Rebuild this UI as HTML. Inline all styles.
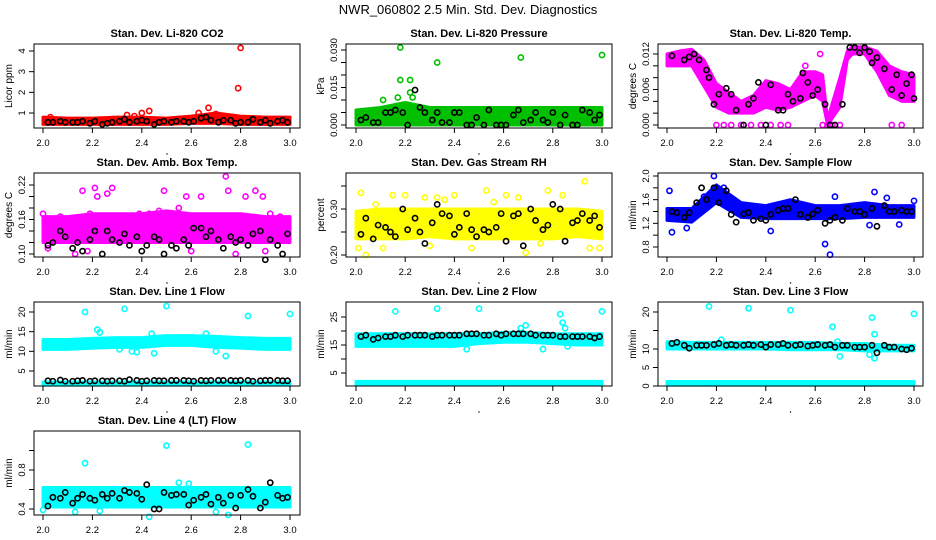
<!DOCTYPE html>
<html><head><meta charset="utf-8"><style>
body{margin:0;background:#fff;}
svg{display:block;font-family:"Liberation Sans",sans-serif;}
</style></head><body>
<svg id="c" width="936" height="540" viewBox="0 0 936 540">
<text x="468" y="14" text-anchor="middle" font-size="13">NWR_060802  2.5 Min. Std. Dev. Diagnostics</text>
</svg>
<script>
// shared x positions for black (alternate) series
const blackX=[2.02,2.04,2.07,2.09,2.12,2.14,2.16,2.19,2.21,2.24,2.26,2.28,2.31,2.33,2.35,2.38,2.40,2.42,2.45,2.47,2.49,2.52,2.54,2.57,2.59,2.61,2.64,2.66,2.68,2.71,2.73,2.76,2.78,2.80,2.83,2.85,2.88,2.90,2.92,2.95,2.97,2.99];
const bandX=[2.0,2.1,2.2,2.3,2.4,2.5,2.6,2.7,2.8,2.9,3.0];
// P1 CO2
const co2BandLo=[0.45,0.45,0.45,0.45,0.45,0.45,0.5,0.5,0.45,0.45,0.45];
const co2BandHi=[0.8,0.75,0.75,0.8,0.8,0.75,0.85,1.0,0.85,0.8,0.8];
const co2OutX=[2.79,2.80,2.67,2.40,2.43,2.34,2.63,2.03,2.37,2.70];
const co2OutY=[2.2,4.15,1.25,1.0,1.1,0.9,1.0,0.8,0.85,0.95];
const co2Black=[0.55,0.55,0.6,0.55,0.55,0.55,0.6,0.5,0.6,0.45,0.5,0.55,0.6,0.7,0.55,0.6,0.65,0.6,0.45,0.55,0.6,0.55,0.6,0.6,0.55,0.6,0.75,0.8,0.65,0.55,0.65,0.65,0.5,0.55,0.55,0.7,0.55,0.65,0.5,0.6,0.65,0.55];
// P2 Pressure
const presBandLo=[0,0,0,0,0,0,0,0,0,0,0];
const presBandHi=[0.006,0.007,0.009,0.007,0.007,0.007,0.007,0.007,0.007,0.007,0.007];
const presOutX=[2.18,2.18,2.22,2.22,2.33,2.67,3.0,2.17,2.23,2.11];
const presOutY=[0.031,0.018,0.018,0.013,0.025,0.027,0.028,0.011,0.011,0.010];
const presBlack=[0.002,0.003,0.001,0.001,0.005,0.005,0.006,0.005,0,0.014,0.007,0.005,0.002,0.005,0.001,0.001,0.005,0.005,0,0,0.003,0,0.006,0,0,0,0.004,0.006,0.001,0.002,0.005,0.002,0.001,0.005,0,0.004,0,0,0.006,0.005,0.002,0.004];
// P3 Temp
const tempBandX=[2.0,2.05,2.1,2.15,2.2,2.25,2.3,2.35,2.4,2.45,2.5,2.55,2.6,2.63,2.65,2.7,2.73,2.75,2.8,2.85,2.9,2.95,3.0];
const tempBandLo=[0.0100,0.0100,0.0100,0.0065,0.0030,0.0020,0.0020,0.0020,0.0030,0.0025,0.0030,0.0040,0.0050,0.0040,0.0000,0.0030,0.0110,0.0120,0.0120,0.0090,0.0050,0.0040,0.0040];
const tempBandHi=[0.0120,0.0125,0.0128,0.0110,0.0070,0.0055,0.0040,0.0050,0.0075,0.0070,0.0060,0.0090,0.0090,0.0085,0.0010,0.0080,0.0125,0.0132,0.0132,0.0125,0.0100,0.0090,0.0085];
const tempOutX=[2.20,2.23,2.26,2.30,2.34,2.38,2.42,2.46,2.49,2.63,2.65,2.67,2.70,2.91,2.95,2.62,2.56];
const tempOutY=[0,0,0,0,0,0,0,0,0,0,0,0,0,0,0,0.012,0.010];
const tempBlackX=[2.02,2.07,2.09,2.11,2.13,2.16,2.17,2.19,2.21,2.24,2.26,2.28,2.31,2.33,2.35,2.37,2.40,2.42,2.45,2.47,2.49,2.51,2.54,2.55,2.57,2.59,2.61,2.64,2.66,2.68,2.71,2.74,2.76,2.78,2.80,2.82,2.83,2.85,2.88,2.91,2.93,2.95,2.97,2.99,3.0];
const tempBlackY=[0.0117,0.011,0.0115,0.012,0.011,0.0093,0.008,0.0035,0.0052,0.0062,0.0052,0.0025,0,0.0035,0.0045,0.0072,0,0.0068,0.0025,0.0025,0.0052,0.004,0.0045,0.0088,0.0072,0.005,0.006,0.0035,0,0,0.0035,0.0131,0.0131,0.0122,0.0131,0.0124,0.0105,0.0114,0.0095,0.006,0.0085,0.005,0.007,0.0085,0.0045];
// P4 Amb box temp
const ambBandLo=[0.12,0.12,0.12,0.12,0.12,0.12,0.12,0.12,0.12,0.12,0.12];
const ambBandHi=[0.165,0.165,0.17,0.17,0.17,0.175,0.17,0.17,0.17,0.165,0.165];
const ambOutX=[2.0,2.07,2.16,2.21,2.22,2.26,2.28,2.31,2.39,2.49,2.58,2.64,2.74,2.75,2.82,2.86,2.89,2.92,2.02,2.13,2.19,2.33,2.47,2.55,2.70,2.96,2.78,2.90,2.05,2.43,2.18,2.60];
const ambOutY=[0.17,0.165,0.21,0.215,0.2,0.205,0.215,0.165,0.17,0.21,0.2,0.2,0.235,0.21,0.2,0.21,0.2,0.17,0.11,0.1,0.17,0.165,0.175,0.18,0.16,0.165,0.1,0.105,0.15,0.17,0.105,0.105];
const ambBlack=[0.115,0.12,0.14,0.13,0.11,0.12,0.105,0.125,0.14,0.1,0.14,0.125,0.12,0.135,0.115,0.13,0.105,0.115,0.13,0.125,0.1,0.115,0.11,0.125,0.115,0.145,0.145,0.13,0.14,0.125,0.11,0.13,0.12,0.125,0.115,0.135,0.14,0.09,0.125,0.115,0.1,0.135];
// P5 RH
const rhBandLo=[0.235,0.235,0.235,0.24,0.235,0.235,0.235,0.235,0.235,0.24,0.235];
const rhBandHi=[0.295,0.3,0.3,0.3,0.3,0.3,0.3,0.3,0.3,0.3,0.295];
const rhOutX=[2.01,2.02,2.04,2.08,2.15,2.20,2.28,2.33,2.36,2.40,2.47,2.53,2.61,2.66,2.69,2.78,2.84,2.93,2.95,2.99,2.11,2.56,2.30,2.75];
const rhOutY=[0.215,0.335,0.2,0.31,0.33,0.33,0.325,0.325,0.32,0.33,0.215,0.34,0.33,0.325,0.205,0.34,0.33,0.36,0.215,0.215,0.215,0.315,0.22,0.225];
const rhBlack=[0.245,0.28,0.235,0.265,0.26,0.25,0.24,0.3,0.255,0.28,0.25,0.225,0.27,0.31,0.29,0.285,0.245,0.26,0.29,0.255,0.24,0.255,0.25,0.26,0.29,0.23,0.285,0.29,0.22,0.3,0.275,0.255,0.265,0.31,0.3,0.23,0.27,0.275,0.29,0.275,0.285,0.26];
// P6 Sample flow
const sfBandLo=[1.25,1.22,1.55,1.3,1.28,1.28,1.28,1.28,1.3,1.3,1.3];
const sfBandHi=[1.45,1.45,1.85,1.55,1.5,1.6,1.5,1.5,1.55,1.5,1.5];
const sfOutX=[2.01,2.02,2.08,2.42,2.64,2.66,2.68,2.84,2.82,2.89,3.0,2.94,2.19,2.15,2.23];
const sfOutY=[1.75,1.05,1.12,1.07,0.85,0.67,1.65,1.73,1.17,1.63,1.58,1.18,2.0,1.65,1.8];
const sfBlack=[1.4,1.38,1.3,1.38,1.55,1.8,1.6,1.8,1.55,1.75,1.35,1.22,1.36,1.38,1.25,1.28,1.25,1.35,1.42,1.45,1.45,1.6,1.35,1.3,1.36,1.42,1.2,1.25,1.3,1.25,1.45,1.4,1.4,1.35,1.45,1.15,1.5,1.4,1.4,1.42,1.4,1.4];
// P7 Line 1
const l1BandLo=[10.5,10.5,10.8,11,11,11.5,11.5,11,10.8,10.5,10.5];
const l1BandHi=[13,13,13.3,13.5,13.5,14,14,13.8,13.5,13.3,13.3];
const l1Band2Lo=[1.4,1.4,1.4,1.4,1.4,1.4,1.4,1.4,1.4,1.4,1.4];
const l1Band2Hi=[2.2,2.2,2.2,2.2,2.2,2.2,2.2,2.2,2.2,2.2,2.2];
const l1OutX=[2.17,2.33,2.50,2.83,3.0,2.22,2.44,2.74,2.70,2.36,2.45,2.31,2.66,2.23,2.38];
const l1OutY=[20,20.8,21.5,19,19.5,15.5,14.5,8.8,10,10,9.5,10.5,14.5,14.8,9.8];
const l1Black=[2.5,2.4,2.7,2.4,2.4,2.5,2.6,2.4,2.5,2.5,2.4,2.5,2.5,2.4,2.8,2.6,2.4,2.5,2.6,2.5,2.5,2.6,2.6,2.6,2.5,2.4,2.6,2.5,2.6,2.6,2.6,2.6,2.5,2.6,2.6,2.4,2.5,2.6,2.6,2.6,2.5,2.5];
// P8 Line 2
const l2BandLo=[14.5,14.5,14.5,14.5,14.5,15.5,16,16,15.5,15,15];
const l2BandHi=[19,19,19,19,19,19,19.5,19.5,19,19,19];
const l2Band2Lo=[0.8,0.8,0.8,0.8,0.8,0.8,0.8,0.8,0.8,0.8,0.8];
const l2Band2Hi=[2.0,2.0,2.0,2.0,2.0,2.0,2.0,2.0,2.0,2.0,2.0];
const l2OutX=[2.16,2.33,2.50,2.83,2.84,2.85,3.0,2.69,2.67,2.45,2.76,2.86];
const l2OutY=[27,28,28,26,23,21,27,22,21,13.5,13.5,14.5];
const l2Black=[18,18.5,17,17.5,18,18,18.5,18,18.5,18.5,18.5,18.5,18,18.5,18.5,18.5,18.5,18.5,19,19,19,18.5,18.5,19,18.5,19,19,19,19,19,18.5,18.5,18.5,18.5,18,18,18,18,18,18,17.5,18];
// P9 Line 3
const l3BandLo=[10,10,10,10,10,9.8,9.8,9.8,9.5,9.5,9.5];
const l3BandHi=[12,11.8,11.8,11.8,11.8,11.8,11.8,11.5,11.5,11,11];
const l3Band2Lo=[0.2,0.2,0.2,0.2,0.2,0.2,0.2,0.2,0.2,0.2,0.2];
const l3Band2Hi=[1.2,1.2,1.2,1.2,1.2,1.2,1.2,1.2,1.2,1.2,1.2];
const l3OutX=[2.17,2.33,2.50,2.83,3.0,2.67,2.84,2.69,2.70,2.82,2.84,2.22];
const l3OutY=[21.5,21,20.5,18.5,19.5,16,14,12,8,8.5,7.5,12.5];
const l3Black=[11.5,11.8,11,10.2,11,11,11,11.2,11.5,11,11.2,11,11,11.2,11,11.2,10.5,11.2,11.2,11.5,11,11,11.2,10.8,11,11.2,11,11.2,10.5,11,11,10.5,10.5,10.5,11,9,11,10.5,10.5,10,9.8,10.2];
// P10 Line 4
const l4BandLo=[0.42,0.42,0.42,0.42,0.42,0.42,0.42,0.42,0.42,0.42,0.42];
const l4BandHi=[0.62,0.62,0.62,0.62,0.62,0.62,0.62,0.62,0.62,0.62,0.62];
const l4OutX=[2.17,2.50,2.83,2.43,2.75,2.0,2.55,2.59,2.13,2.23,2.70];
const l4OutY=[0.87,1.05,1.06,0.32,0.34,0.39,0.67,0.66,0.37,0.38,0.37];
const l4Black=[0.43,0.52,0.51,0.57,0.46,0.51,0.55,0.51,0.49,0.55,0.51,0.56,0.51,0.59,0.57,0.56,0.50,0.65,0.40,0.40,0.57,0.54,0.55,0.55,0.44,0.49,0.52,0.55,0.45,0.52,0.46,0.54,0.41,0.54,0.60,0.53,0.41,0.47,0.67,0.54,0.51,0.52];
const xTicks=[2.0,2.2,2.4,2.6,2.8,3.0];
const xTickLabels=["2.0","2.2","2.4","2.6","2.8","3.0"];

const NS="http://www.w3.org/2000/svg";
const svg=document.getElementById('c');
function mk(tag,attrs,parent){const e=document.createElementNS(NS,tag);for(const k in attrs)e.setAttribute(k,attrs[k]);(parent||svg).appendChild(e);return e;}
const cols=[{l:34,r:300,x0:43,x1:290},{l:346,r:612,x0:356,x1:602},{l:658,r:923,x0:667,x1:914}];
const rows=[44,173,302,431];
const H=84;

function panel(o){
  const c=cols[o.col],top=rows[o.row],bot=top+H;
  const g=mk('g',{});
  
  
  const sx=v=>c.x0+(v-2)*(c.x1-c.x0);
  const sy=v=>o.p0+(v-o.v0)*(o.p1-o.p0)/(o.v1-o.v0);
  const t=mk('text',{x:(c.l+c.r)/2,y:top-7,'text-anchor':'middle','font-size':11,'font-weight':'bold'},g);t.textContent=o.title;
  
  
  const cg=mk('g',{},g);
  const bands=o.bands||[];
  bands.forEach(b=>{
    let pts=[];
    b.x.forEach((x,i)=>pts.push(sx(x)+','+sy(b.hi[i])));
    for(let i=b.x.length-1;i>=0;i--)pts.push(sx(b.x[i])+','+sy(b.lo[i]));
    const p=mk('polygon',{points:pts.join(' '),fill:o.color,stroke:o.color,'stroke-width':3,'stroke-linejoin':'round'},cg);
    
    
  });
  o.outX.forEach((x,i)=>{
    const e=mk('circle',{cx:sx(x),cy:sy(o.outY[i]),r:2.6,fill:'none',stroke:o.color,'stroke-width':1.6},cg);
    
    
  });
  o.bX.forEach((x,i)=>{
    const e=mk('circle',{cx:sx(x),cy:sy(o.bY[i]),r:2.6,fill:'none',stroke:'#000','stroke-width':1.6},cg);
    
    
  });
  const box=mk('rect',{x:c.l,y:top,width:c.r-c.l,height:H,fill:'none',stroke:'#000','stroke-width':1},g);
  
  
  xTicks.forEach((v,i)=>{
    mk('line',{x1:sx(v),x2:sx(v),y1:bot,y2:bot+5,stroke:'#000'},g);
    const tl=mk('text',{x:sx(v),y:bot+18,'text-anchor':'middle','font-size':9.5},g);tl.textContent=xTickLabels[i];
    
    
  });
  mk('circle',{cx:(c.l+c.r)/2,cy:bot+26,r:0.7,fill:'#000'},g);
  o.yTicks.forEach(v=>{mk('line',{x1:c.l,x2:c.l-5,y1:sy(v),y2:sy(v),stroke:'#000'},g);});
  o.yLabels.forEach(v=>{
    const y=sy(v);
    const tl=mk('text',{x:0,y:0,'text-anchor':'middle','font-size':9.5,transform:`translate(${c.l-9},${y}) rotate(-90)`},g);tl.textContent=o.fmt(v);
    
    
  });
  const yl=mk('text',{x:0,y:0,'text-anchor':'middle','font-size':10,transform:`translate(${c.l-22},${top+H/2}) rotate(-90)`},g);yl.textContent=o.ylab;
  
  
}
const f1=v=>v.toFixed(1),f0=v=>String(v),f2=v=>v.toFixed(2),f3=v=>v.toFixed(3);
panel({name:'co2-panel',col:0,row:0,title:'Stan. Dev. Li-820 CO2',ylab:'Licor ppm',color:'#ff0000',v0:1,p0:113,v1:4,p1:51,yTicks:[1,2,3,4],yLabels:[1,2,3,4],fmt:f0,
 bands:[{x:bandX,lo:co2BandLo,hi:co2BandHi}],outX:co2OutX,outY:co2OutY,bX:blackX,bY:co2Black});
panel({name:'pressure-panel',col:1,row:0,title:'Stan. Dev. Li-820 Pressure',ylab:'kPa',color:'#00c000',v0:0,p0:125,v1:0.03,p1:50,yTicks:[0,0.005,0.01,0.015,0.02,0.025,0.03],yLabels:[0,0.015,0.03],fmt:f3,
 bands:[{x:bandX,lo:presBandLo,hi:presBandHi}],outX:presOutX,outY:presOutY,bX:blackX,bY:presBlack});
panel({name:'temp-panel',col:2,row:0,title:'Stan. Dev. Li-820 Temp.',ylab:'degrees C',color:'#ff00ff',v0:0,p0:125,v1:0.012,p1:54,yTicks:[0,0.002,0.004,0.006,0.008,0.01,0.012],yLabels:[0,0.006,0.012],fmt:f3,
 bands:[{x:tempBandX,lo:tempBandLo,hi:tempBandHi}],outX:tempOutX,outY:tempOutY,bX:tempBlackX,bY:tempBlackY});
panel({name:'amb-temp-panel',col:0,row:1,title:'Stan. Dev. Amb. Box Temp.',ylab:'degrees C',color:'#ff00ff',v0:0.10,p0:254,v1:0.22,p1:185,yTicks:[0.1,0.12,0.14,0.16,0.18,0.2,0.22],yLabels:[0.1,0.16,0.22],fmt:f2,
 bands:[{x:bandX,lo:ambBandLo,hi:ambBandHi}],outX:ambOutX,outY:ambOutY,bX:blackX,bY:ambBlack});
panel({name:'rh-panel',col:1,row:1,title:'Stan. Dev. Gas Stream RH',ylab:'percent',color:'#ffff00',v0:0.20,p0:255,v1:0.30,p1:209,yTicks:[0.2,0.25,0.3,0.35],yLabels:[0.2,0.3],fmt:f2,
 bands:[{x:bandX,lo:rhBandLo,hi:rhBandHi}],outX:rhOutX,outY:rhOutY,bX:blackX,bY:rhBlack});
panel({name:'sample-flow-panel',col:2,row:1,title:'Stan. Dev. Sample Flow',ylab:'ml/min',color:'#0000ff',v0:0.8,p0:247,v1:2.0,p1:176,yTicks:[0.8,1.0,1.2,1.4,1.6,1.8,2.0],yLabels:[0.8,1.2,1.6,2.0],fmt:f1,
 bands:[{x:bandX,lo:sfBandLo,hi:sfBandHi}],outX:sfOutX,outY:sfOutY,bX:blackX,bY:sfBlack});
panel({name:'line1-panel',col:0,row:2,title:'Stan. Dev. Line 1 Flow',ylab:'ml/min',color:'#00ffff',v0:5,p0:371,v1:20,p1:312,yTicks:[5,10,15,20],yLabels:[5,10,15,20],fmt:f0,
 bands:[{x:bandX,lo:l1BandLo,hi:l1BandHi},{x:bandX,lo:l1Band2Lo,hi:l1Band2Hi}],outX:l1OutX,outY:l1OutY,bX:blackX,bY:l1Black});
panel({name:'line2-panel',col:1,row:2,title:'Stan. Dev. Line 2 Flow',ylab:'ml/min',color:'#00ffff',v0:5,p0:373,v1:25,p1:317,yTicks:[5,10,15,20,25],yLabels:[5,15,25],fmt:f0,
 bands:[{x:bandX,lo:l2BandLo,hi:l2BandHi},{x:bandX,lo:l2Band2Lo,hi:l2Band2Hi}],outX:l2OutX,outY:l2OutY,bX:blackX,bY:l2Black});
panel({name:'line3-panel',col:2,row:2,title:'Stan. Dev. Line 3 Flow',ylab:'ml/min',color:'#00ffff',v0:0,p0:386,v1:20,p1:312,yTicks:[0,5,10,15,20],yLabels:[0,5,10,20],fmt:f0,
 bands:[{x:bandX,lo:l3BandLo,hi:l3BandHi},{x:bandX,lo:l3Band2Lo,hi:l3Band2Hi}],outX:l3OutX,outY:l3OutY,bX:blackX,bY:l3Black});
panel({name:'line4-panel',col:0,row:3,title:'Stan. Dev. Line 4 (LT) Flow',ylab:'ml/min',color:'#00ffff',v0:0.4,p0:509,v1:0.8,p1:470,yTicks:[0.4,0.6,0.8,1.0],yLabels:[0.4,0.8],fmt:f1,
 bands:[{x:bandX,lo:l4BandLo,hi:l4BandHi}],outX:l4OutX,outY:l4OutY,bX:blackX,bY:l4Black});
</script>
</body></html>
